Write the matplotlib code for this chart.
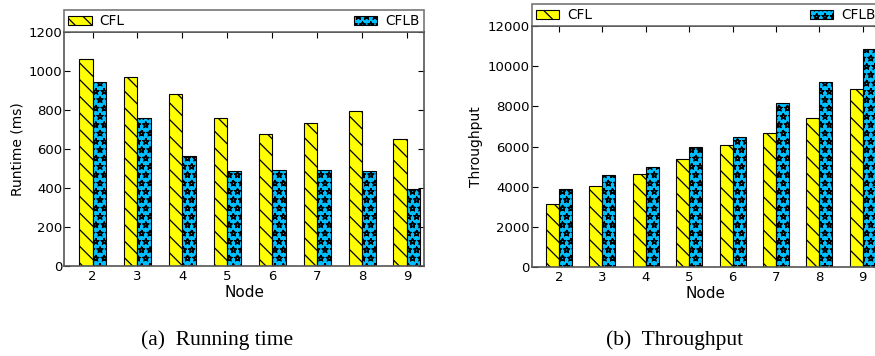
import matplotlib
matplotlib.use("Agg")
import matplotlib.pyplot as plt
import matplotlib.hatch as mhatch
import numpy as np

nodes = [2, 3, 4, 5, 6, 7, 8, 9]
runtime_cfl = [1065, 970, 885, 760, 680, 735, 795, 650]
runtime_cflb = [945, 760, 565, 490, 495, 495, 490, 397]
throughput_cfl = [3130, 4010, 4640, 5380, 6075, 6690, 7410, 8890]
throughput_cflb = [3880, 4590, 4960, 5960, 6460, 8190, 9200, 10850]
series_names = ["CFL", "CFLB"]
captions = ["(a)  Running time", "(b)  Throughput"]

# outlined (hollow) stars for the star hatch
mhatch.Stars.filled = False

plt.rcParams["hatch.linewidth"] = 0.9
plt.rcParams["font.family"] = "DejaVu Sans"

fig = plt.figure(figsize=(8.75, 3.56), dpi=100)

W, H = 875.0, 356.0
width = 0.3
frame_color = "#555555"


def draw_panel(rect, a, b, ymax, ystep, ylabel, leg_h):
    ax = fig.add_axes(rect)
    x = np.array(nodes, dtype=float)
    ax.bar(x - width / 2, a, width, color="#FFFF00", edgecolor="black",
           linewidth=0.8, hatch="\\\\", label=series_names[0])
    ax.bar(x + width / 2, b, width, color="#00BFFF", edgecolor="black",
           linewidth=0.8, hatch="**", label=series_names[1])
    ax.set_xlim(1.37, 9.38)
    ax.set_ylim(0, ymax)
    ax.set_xticks(nodes)
    ax.set_yticks(np.arange(0, ymax + 1, ystep))
    ax.tick_params(direction="in", top=True, right=True, length=4,
                   width=0.8, labelsize=9.5, colors="black")
    ax.tick_params(axis="y", pad=1.5)
    ax.tick_params(axis="x", pad=3)
    for s in ax.spines.values():
        s.set_color(frame_color)
        s.set_linewidth(1.2)
    ax.set_xlabel("Node", fontsize=11, labelpad=1.5)
    ax.set_ylabel(ylabel, fontsize=10, labelpad=3)
    leg = ax.legend(loc="lower left", bbox_to_anchor=(0, 1, 1, leg_h),
                    mode="expand", ncol=2, borderaxespad=0, fontsize=9.8,
                    frameon=True, fancybox=False, handlelength=1.7,
                    handleheight=0.65, borderpad=0.3, handletextpad=0.6)
    fr = leg.get_frame()
    fr.set_edgecolor(frame_color)
    fr.set_linewidth(1.2)
    return ax


draw_panel([64.3 / W, (H - 266) / H, (424 - 64.3) / W, (266 - 32.3) / H],
           runtime_cfl, runtime_cflb, 1200, 200, "Runtime (ms)", 0.098)
draw_panel([531.7 / W, (H - 266.7) / H, (879.3 - 531.7) / W, (266.7 - 26.3) / H],
           throughput_cfl, throughput_cflb, 12000, 2000, "Throughput", 0.097)

fig.text(217 / W, (H - 340) / H, captions[0], ha="center", va="center",
         fontsize=15.5, family="Liberation Serif")
fig.text(675 / W, (H - 340) / H, captions[1], ha="center", va="center",
         fontsize=15.5, family="Liberation Serif")

fig.savefig("out.png", dpi=100)
